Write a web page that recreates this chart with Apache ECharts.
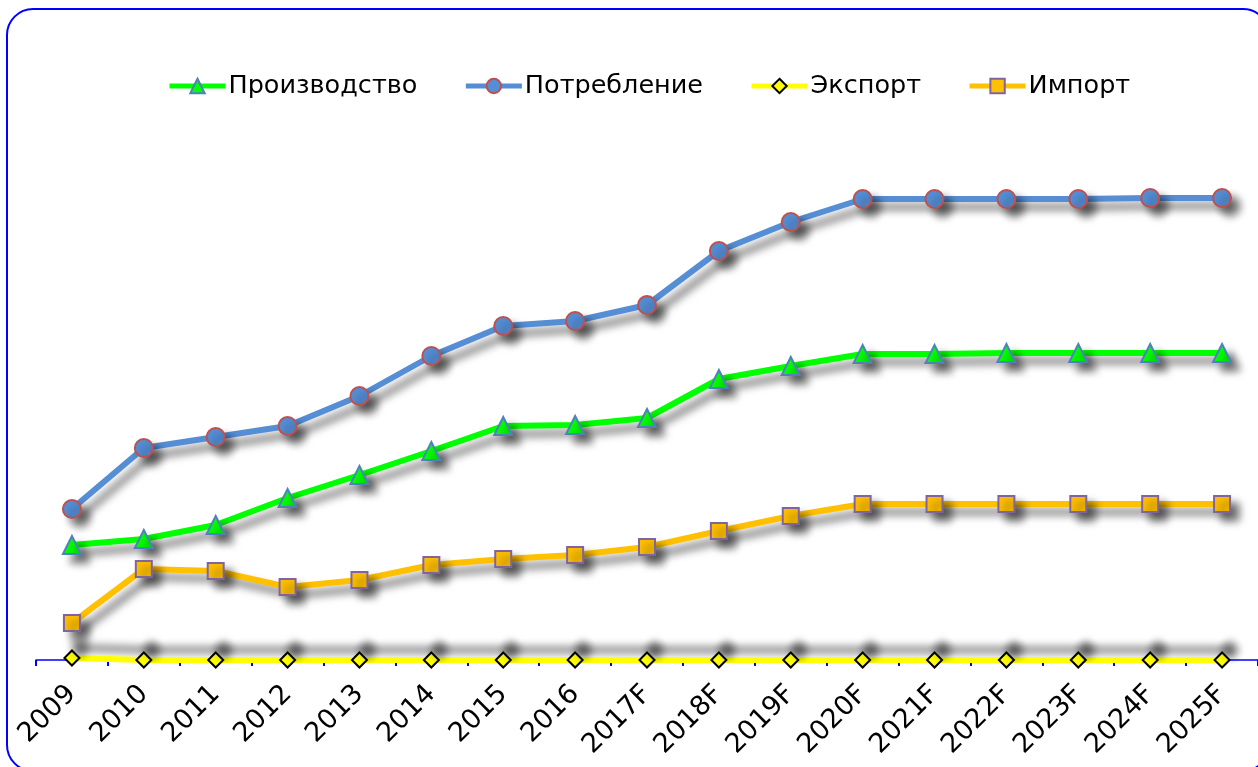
<!DOCTYPE html>
<html>
<head>
    <meta charset="utf-8">
    <title>ECharts</title>
    <script type="text/javascript" src="https://cdn.jsdelivr.net/npm/echarts@6/dist/echarts.min.js"></script>
    <style type="text/css">
        html, body { margin: 0; padding: 0; background: #fff; }
        #main { width: 1258px; height: 767px; }
    </style>
</head>
<body>

<div id="main"></div>

<script type="text/javascript">

    // данные
    var years = ['2009', '2010', '2011', '2012', '2013', '2014', '2015', '2016', '2017F',
        '2018F', '2019F', '2020F', '2021F', '2022F', '2023F', '2024F', '2025F'];
    var production = [23, 24.2, 27, 32.4, 37, 41.8, 46.8, 47, 48.4, 56.2, 58.8, 61.2, 61.2, 61.4, 61.4, 61.4, 61.4];
    var consumption = [30.2, 42.4, 44.6, 46.8, 52.8, 60.8, 66.8, 67.8, 71, 81.8, 87.6, 92.2, 92.2, 92.2, 92.2, 92.4, 92.4];
    var exportData = [0.4, 0, 0, 0, 0, 0, 0, 0, 0, 0, 0, 0, 0, 0, 0, 0, 0];
    var importData = [7.4, 18.2, 17.8, 14.6, 16, 19, 20.2, 21, 22.6, 25.8, 28.8, 31.2, 31.2, 31.2, 31.2, 31.2, 31.2];

    var myChart = echarts.init(document.getElementById('main'));

    var shadow = 'rgba(0,0,0,0.55)';

    function line(name, data, color, symbol, size, border, offY) {
        return {
            name: name,
            type: 'line',
            data: data,
            symbol: symbol,
            symbolSize: size,
            color: color,
            lineStyle: {
                width: 6,
                color: color,
                shadowColor: shadow,
                shadowBlur: 8,
                shadowOffsetX: 8,
                shadowOffsetY: offY
            },
            itemStyle: {
                color: color,
                borderColor: border,
                borderWidth: 2,
                shadowColor: shadow,
                shadowBlur: 8,
                shadowOffsetX: 8,
                shadowOffsetY: offY
            },
            emphasis: { disabled: true },
            animation: false
        };
    }

    var option = {
        textStyle: { fontFamily: 'DejaVu Sans' },
        graphic: [{
            type: 'rect',
            shape: { x: 7, y: 9, width: 1262, height: 762, r: 26 },
            style: { fill: 'none', stroke: '#0000ff', lineWidth: 2 },
            z: -1
        }],
        legend: {
            top: 68,
            left: 162,
            itemWidth: 56,
            itemHeight: 18,
            itemGap: 46,
            lineStyle: { width: 5, shadowBlur: 0, shadowOffsetX: 0, shadowOffsetY: 0 },
            itemStyle: { shadowBlur: 0, shadowOffsetX: 0, shadowOffsetY: 0 },
            textStyle: { fontSize: 25.5, color: '#000', fontFamily: 'DejaVu Sans', padding: [0, 0, 0, -2] },
            data: ['Производство', 'Потребление', 'Экспорт', 'Импорт']
        },
        grid: {
            left: 36,
            right: 0,
            top: 60,
            bottom: 107
        },
        xAxis: {
            type: 'category',
            data: years,
            boundaryGap: true,
            axisLine: { lineStyle: { color: '#0000ff', width: 1.5 } },
            axisTick: { show: true, length: 6, lineStyle: { color: '#0000ff', width: 2 } },
            axisLabel: {
                rotate: 45,
                interval: 0,
                fontSize: 27,
                color: '#000',
                margin: 30,
                fontFamily: 'DejaVu Sans'
            }
        },
        yAxis: {
            type: 'value',
            min: 0,
            max: 120,
            show: false,
            splitLine: { show: false }
        },
        series: [
            line('Производство', production, '#00ff00', 'triangle', 18, '#4f81bd', 8),
            line('Потребление', consumption, '#558ed5', 'circle', 18, '#c0504d', 8),
            line('Экспорт', exportData, '#ffff00', 'diamond', 15, '#000000', -10),
            line('Импорт', importData, '#ffc000', 'rect', 16, '#8064a2', 8)
        ]
    };

    myChart.setOption(option);
</script>

</body>
</html>
